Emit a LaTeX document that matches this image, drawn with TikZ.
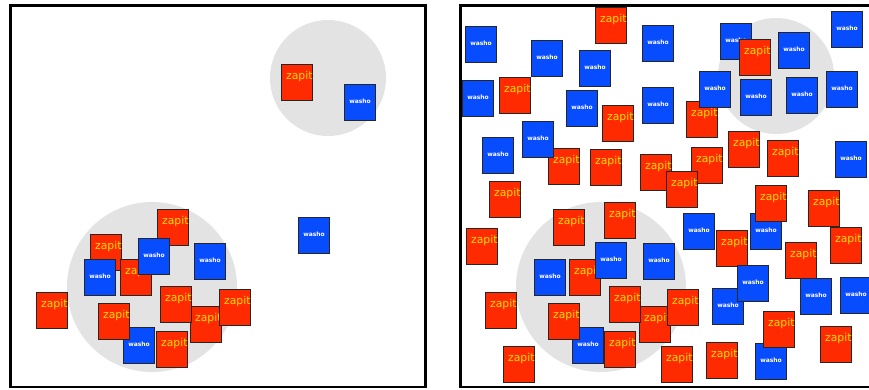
\documentclass[tikz,border=0pt]{standalone}
\usepackage{fontspec}
\newfontfamily\boxfont{DejaVu Sans}
\usepackage{tikz}
\definecolor{zapred}{RGB}{255,42,0}
\definecolor{washblue}{RGB}{8,76,255}
\definecolor{zapyellow}{RGB}{255,222,0}
\definecolor{spotgray}{RGB}{227,227,227}
\definecolor{boxedge}{RGB}{38,38,38}
\begin{document}
\begin{tikzpicture}[x=1pt,y=-1pt,
  panel/.style={draw=black,line width=2.6pt,fill=white},
  spot/.style={circle,fill=spotgray,inner sep=0pt},
  card/.style={anchor=north west,minimum width=31pt,minimum height=36pt,inner sep=0pt,draw=boxedge,line width=1.1pt},
  zap/.style={card,fill=zapred,text=zapyellow,font=\boxfont\fontsize{10.8}{12}\selectfont,text width=31pt,align=right,text height=5pt,text depth=11pt},
  wash/.style={card,fill=washblue,text=white,font=\boxfont\bfseries\fontsize{6}{7}\selectfont,text height=4pt,text depth=3pt}]
\clip (0,0) rectangle (869,389);
% left panel
\draw[panel] (10.3,5.5) rectangle (425.3,386.8);
\node[spot,minimum size=116pt] (la) at (328,78) {};
\node[spot,minimum size=170pt] (lb) at (152,287) {};
\node[zap] (a1) at (281,64) {zapit};
\node[wash] (a2) at (344,84) {washo};
\node[zap] (a3) at (157,209) {zapit};
\node[zap] (a4) at (90,234) {zapit};
\node[zap] (a5) at (120,259) {zapit};
\node[wash] (a6) at (84,259) {washo};
\node[wash] (a7) at (138,238) {washo};
\node[wash] (a8) at (194,243) {washo};
\node[wash] (a9) at (298,217) {washo};
\node[zap] (a10) at (36,292) {zapit};
\node[wash] (a11) at (123,327) {washo};
\node[zap] (a12) at (98,303) {zapit};
\node[zap] (a13) at (156,331) {zapit};
\node[zap] (a14) at (190,306) {zapit};
\node[zap] (a15) at (160,286) {zapit};
\node[zap] (a16) at (219,289) {zapit};
% right panel
\draw[panel] (460.5,5.5) rectangle (875.5,386.8);
\node[spot,minimum size=116pt] (ra) at (776,76) {};
\node[spot,minimum size=170pt] (rb) at (601,287) {};
\node[zap] (b1) at (595,7) {zapit};
\node[wash] (b2) at (465,26) {washo};
\node[wash] (b3) at (531,40) {washo};
\node[wash] (b4) at (579,50) {washo};
\node[wash] (b5) at (642,25) {washo};
\node[wash] (b6) at (720,23) {washo};
\node[zap] (b7) at (739,39) {zapit};
\node[wash] (b8) at (778,32) {washo};
\node[wash] (b9) at (831,11) {washo};
\node[wash] (b10) at (462,80) {washo};
\node[zap] (b11) at (499,77) {zapit};
\node[wash] (b12) at (566,90) {washo};
\node[zap] (b13) at (602,105) {zapit};
\node[wash] (b14) at (642,87) {washo};
\node[zap] (b15) at (686,101) {zapit};
\node[wash] (b16) at (699,71) {washo};
\node[wash] (b17) at (740,79) {washo};
\node[wash] (b18) at (786,77) {washo};
\node[wash] (b19) at (826,71) {washo};
\node[zap] (b20) at (548,148) {zapit};
\node[wash] (b21) at (522,121) {washo};
\node[wash] (b22) at (482,137) {washo};
\node[zap] (b23) at (590,149) {zapit};
\node[zap] (b24) at (640,154) {zapit};
\node[zap] (b25) at (691,147) {zapit};
\node[zap] (b26) at (666,171) {zapit};
\node[zap] (b27) at (728,131) {zapit};
\node[zap] (b28) at (767,140) {zapit};
\node[wash] (b29) at (835,141) {washo};
\node[zap] (b30) at (489,181) {zapit};
\node[wash] (b31) at (750,213) {washo};
\node[zap] (b32) at (755,185) {zapit};
\node[zap] (b33) at (808,190) {zapit};
\node[zap] (b34) at (466,228) {zapit};
\node[zap] (b35) at (553,209) {zapit};
\node[zap] (b36) at (604,202) {zapit};
\node[wash] (b37) at (534,259) {washo};
\node[zap] (b38) at (569,259) {zapit};
\node[wash] (b39) at (595,242) {washo};
\node[wash] (b40) at (643,243) {washo};
\node[wash] (b41) at (683,213) {washo};
\node[zap] (b42) at (716,230) {zapit};
\node[zap] (b43) at (830,227) {zapit};
\node[zap] (b44) at (785,242) {zapit};
\node[wash] (b45) at (712,288) {washo};
\node[wash] (b46) at (737,265) {washo};
\node[wash] (b47) at (800,278) {washo};
\node[wash] (b48) at (840,277) {washo};
\node[zap] (b49) at (485,292) {zapit};
\node[wash] (b50) at (572,327) {washo};
\node[zap] (b51) at (548,303) {zapit};
\node[zap] (b52) at (604,331) {zapit};
\node[zap] (b53) at (639,306) {zapit};
\node[zap] (b54) at (609,286) {zapit};
\node[zap] (b55) at (667,289) {zapit};
\node[wash] (b56) at (755,343) {washo};
\node[zap] (b57) at (763,311) {zapit};
\node[zap] (b58) at (820,326) {zapit};
\node[zap] (b59) at (503,346) {zapit};
\node[zap] (b60) at (661,346) {zapit};
\node[zap] (b61) at (706,342) {zapit};
\end{tikzpicture}
\end{document}
